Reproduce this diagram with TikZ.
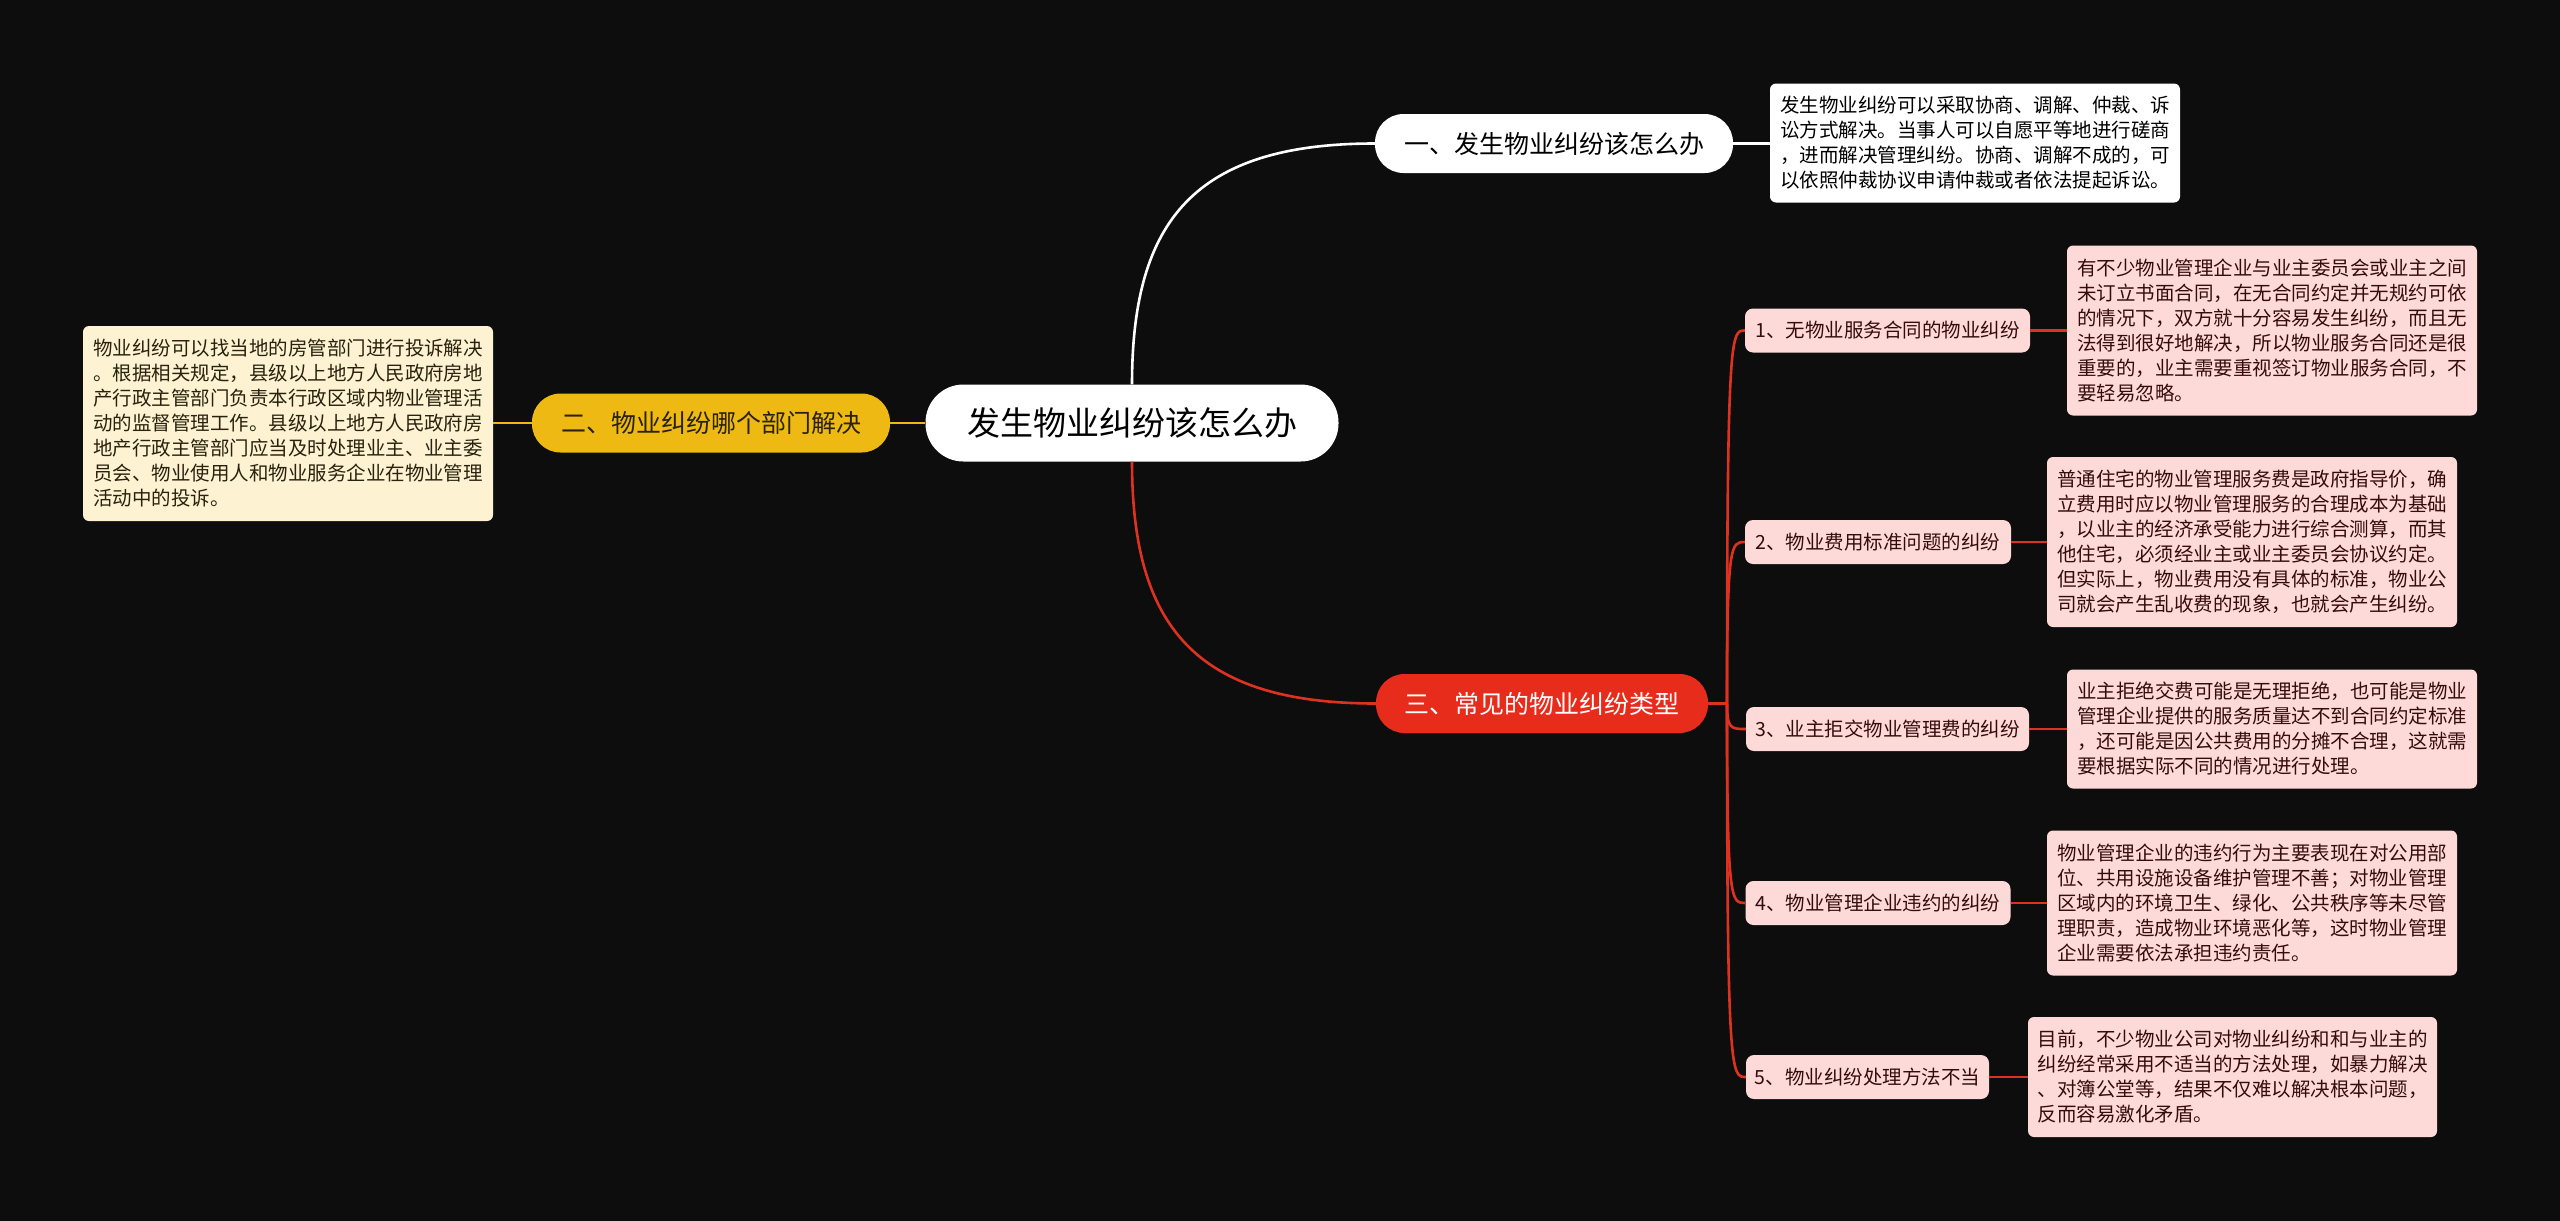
\documentclass[tikz,border=0pt]{standalone}
\usepackage{fontspec}
\setmainfont{Noto Sans CJK SC}
\definecolor{bgc}{RGB}{13,13,13}
\definecolor{yelc}{RGB}{239,185,20}
\definecolor{creamc}{RGB}{253,242,210}
\definecolor{redc}{RGB}{232,44,28}
\definecolor{rlinec}{RGB}{222,50,32}
\definecolor{pinkc}{RGB}{253,218,215}
\definecolor{maroon}{RGB}{52,12,12}
\definecolor{olivek}{RGB}{40,34,14}
\begin{document}
\begin{tikzpicture}[x=1pt,y=-1pt,
  pill/.style={rounded corners=28.5pt, minimum height=59pt, inner sep=0pt, font=\fontsize{25}{30}\selectfont},
  leafbox/.style={rounded corners=6pt, inner xsep=0pt, inner ysep=0pt, align=left, font=\fontsize{19.5}{25}\selectfont},
  subbox/.style={fill=pinkc, text=maroon, rounded corners=8pt, minimum height=44pt, inner sep=0pt, font=\fontsize{19.5}{24}\selectfont},
  wline/.style={draw=white, line width=2.6pt},
  yline/.style={draw=yelc, line width=2.6pt},
  rline/.style={draw=rlinec, line width=2.6pt}]
\useasboundingbox (0,0) rectangle (2560,1221);
\fill[bgc] (0,0) rectangle (2560,1221);

% root
\node[fill=white, text=black, rounded corners=38pt, minimum width=413pt, minimum height=77pt, inner sep=0pt, font=\fontsize{33}{38}\selectfont] (root) at (1132,423) {发生物业纠纷该怎么办};

% branch 1
\node[pill, fill=white, text=black, minimum width=358pt] (b1) at (1554,143.5) {一、发生物业纠纷该怎么办};
\node[leafbox, fill=white, text=black, minimum width=410pt, minimum height=119pt] (l1) at (1975,143) {发生物业纠纷可以采取协商、调解、仲裁、诉\\讼方式解决。当事人可以自愿平等地进行磋商\\，进而解决管理纠纷。协商、调解不成的，可\\以依照仲裁协议申请仲裁或者依法提起诉讼。};

% branch 2
\node[pill, fill=yelc, text=olivek, minimum width=358pt] (b2) at (711,423) {二、物业纠纷哪个部门解决};
\node[leafbox, fill=creamc, text=olivek, minimum width=410pt, minimum height=195pt] (l2) at (288,423.5) {物业纠纷可以找当地的房管部门进行投诉解决\\。根据相关规定，县级以上地方人民政府房地\\产行政主管部门负责本行政区域内物业管理活\\动的监督管理工作。县级以上地方人民政府房\\地产行政主管部门应当及时处理业主、业主委\\员会、物业使用人和物业服务企业在物业管理\\活动中的投诉。};

% branch 3
\node[pill, fill=redc, text=white, minimum width=332pt] (b3) at (1542,703.5) {三、常见的物业纠纷类型};

\node[subbox, minimum width=285pt] (s1) at (1887.5,330.5) {1、无物业服务合同的物业纠纷};
\node[subbox, minimum width=266pt] (s2) at (1878,542) {2、物业费用标准问题的纠纷};
\node[subbox, minimum width=283pt] (s3) at (1887.5,729) {3、业主拒交物业管理费的纠纷};
\node[subbox, minimum width=265pt] (s4) at (1878,903) {4、物业管理企业违约的纠纷};
\node[subbox, minimum width=243pt] (s5) at (1867.5,1077) {5、物业纠纷处理方法不当};

\node[leafbox, fill=pinkc, text=maroon, minimum width=410pt, minimum height=170pt] (p1) at (2272,330.5) {有不少物业管理企业与业主委员会或业主之间\\未订立书面合同，在无合同约定并无规约可依\\的情况下，双方就十分容易发生纠纷，而且无\\法得到很好地解决，所以物业服务合同还是很\\重要的，业主需要重视签订物业服务合同，不\\要轻易忽略。};
\node[leafbox, fill=pinkc, text=maroon, minimum width=410pt, minimum height=170pt] (p2) at (2252,542) {普通住宅的物业管理服务费是政府指导价，确\\立费用时应以物业管理服务的合理成本为基础\\，以业主的经济承受能力进行综合测算，而其\\他住宅，必须经业主或业主委员会协议约定。\\但实际上，物业费用没有具体的标准，物业公\\司就会产生乱收费的现象，也就会产生纠纷。};
\node[leafbox, fill=pinkc, text=maroon, minimum width=410pt, minimum height=119pt] (p3) at (2272,729) {业主拒绝交费可能是无理拒绝，也可能是物业\\管理企业提供的服务质量达不到合同约定标准\\，还可能是因公共费用的分摊不合理，这就需\\要根据实际不同的情况进行处理。};
\node[leafbox, fill=pinkc, text=maroon, minimum width=410pt, minimum height=145pt] (p4) at (2252,903) {物业管理企业的违约行为主要表现在对公用部\\位、共用设施设备维护管理不善；对物业管理\\区域内的环境卫生、绿化、公共秩序等未尽管\\理职责，造成物业环境恶化等，这时物业管理\\企业需要依法承担违约责任。};
\node[leafbox, fill=pinkc, text=maroon, minimum width=409pt, minimum height=120pt] (p5) at (2232.5,1077) {目前，不少物业公司对物业纠纷和和与业主的\\纠纷经常采用不适当的方法处理，如暴力解决\\、对簿公堂等，结果不仅难以解决根本问题，\\反而容易激化矛盾。};

% connectors
\begin{scope}[on background layer/.style={}]
\end{scope}
\draw[wline] (root.north) .. controls (1132,220) and (1195,143.5) .. (b1.west);
\draw[wline] (b1.east) -- (b1.east -| l1.west);
\draw[yline] (root.west) -- (b2.east);
\draw[yline] (b2.west) -- (b2.west -| l2.east);
\draw[rline] (root.south) .. controls (1132,626) and (1195,703.5) .. (b3.west);
\coordinate (tr) at (1727,703.5);
\draw[rline] (b3.east) -- (tr);
\foreach \s in {s1,s2,s3,s4,s5}{
  \draw[rline] (tr) .. controls (tr |- \s.west) and ([xshift=4pt]tr |- \s.west) .. (\s.west);
}
\draw[rline] (s1.east) -- (s1.east -| p1.west);
\draw[rline] (s2.east) -- (s2.east -| p2.west);
\draw[rline] (s3.east) -- (s3.east -| p3.west);
\draw[rline] (s4.east) -- (s4.east -| p4.west);
\draw[rline] (s5.east) -- (s5.east -| p5.west);
\end{tikzpicture}
\end{document}
